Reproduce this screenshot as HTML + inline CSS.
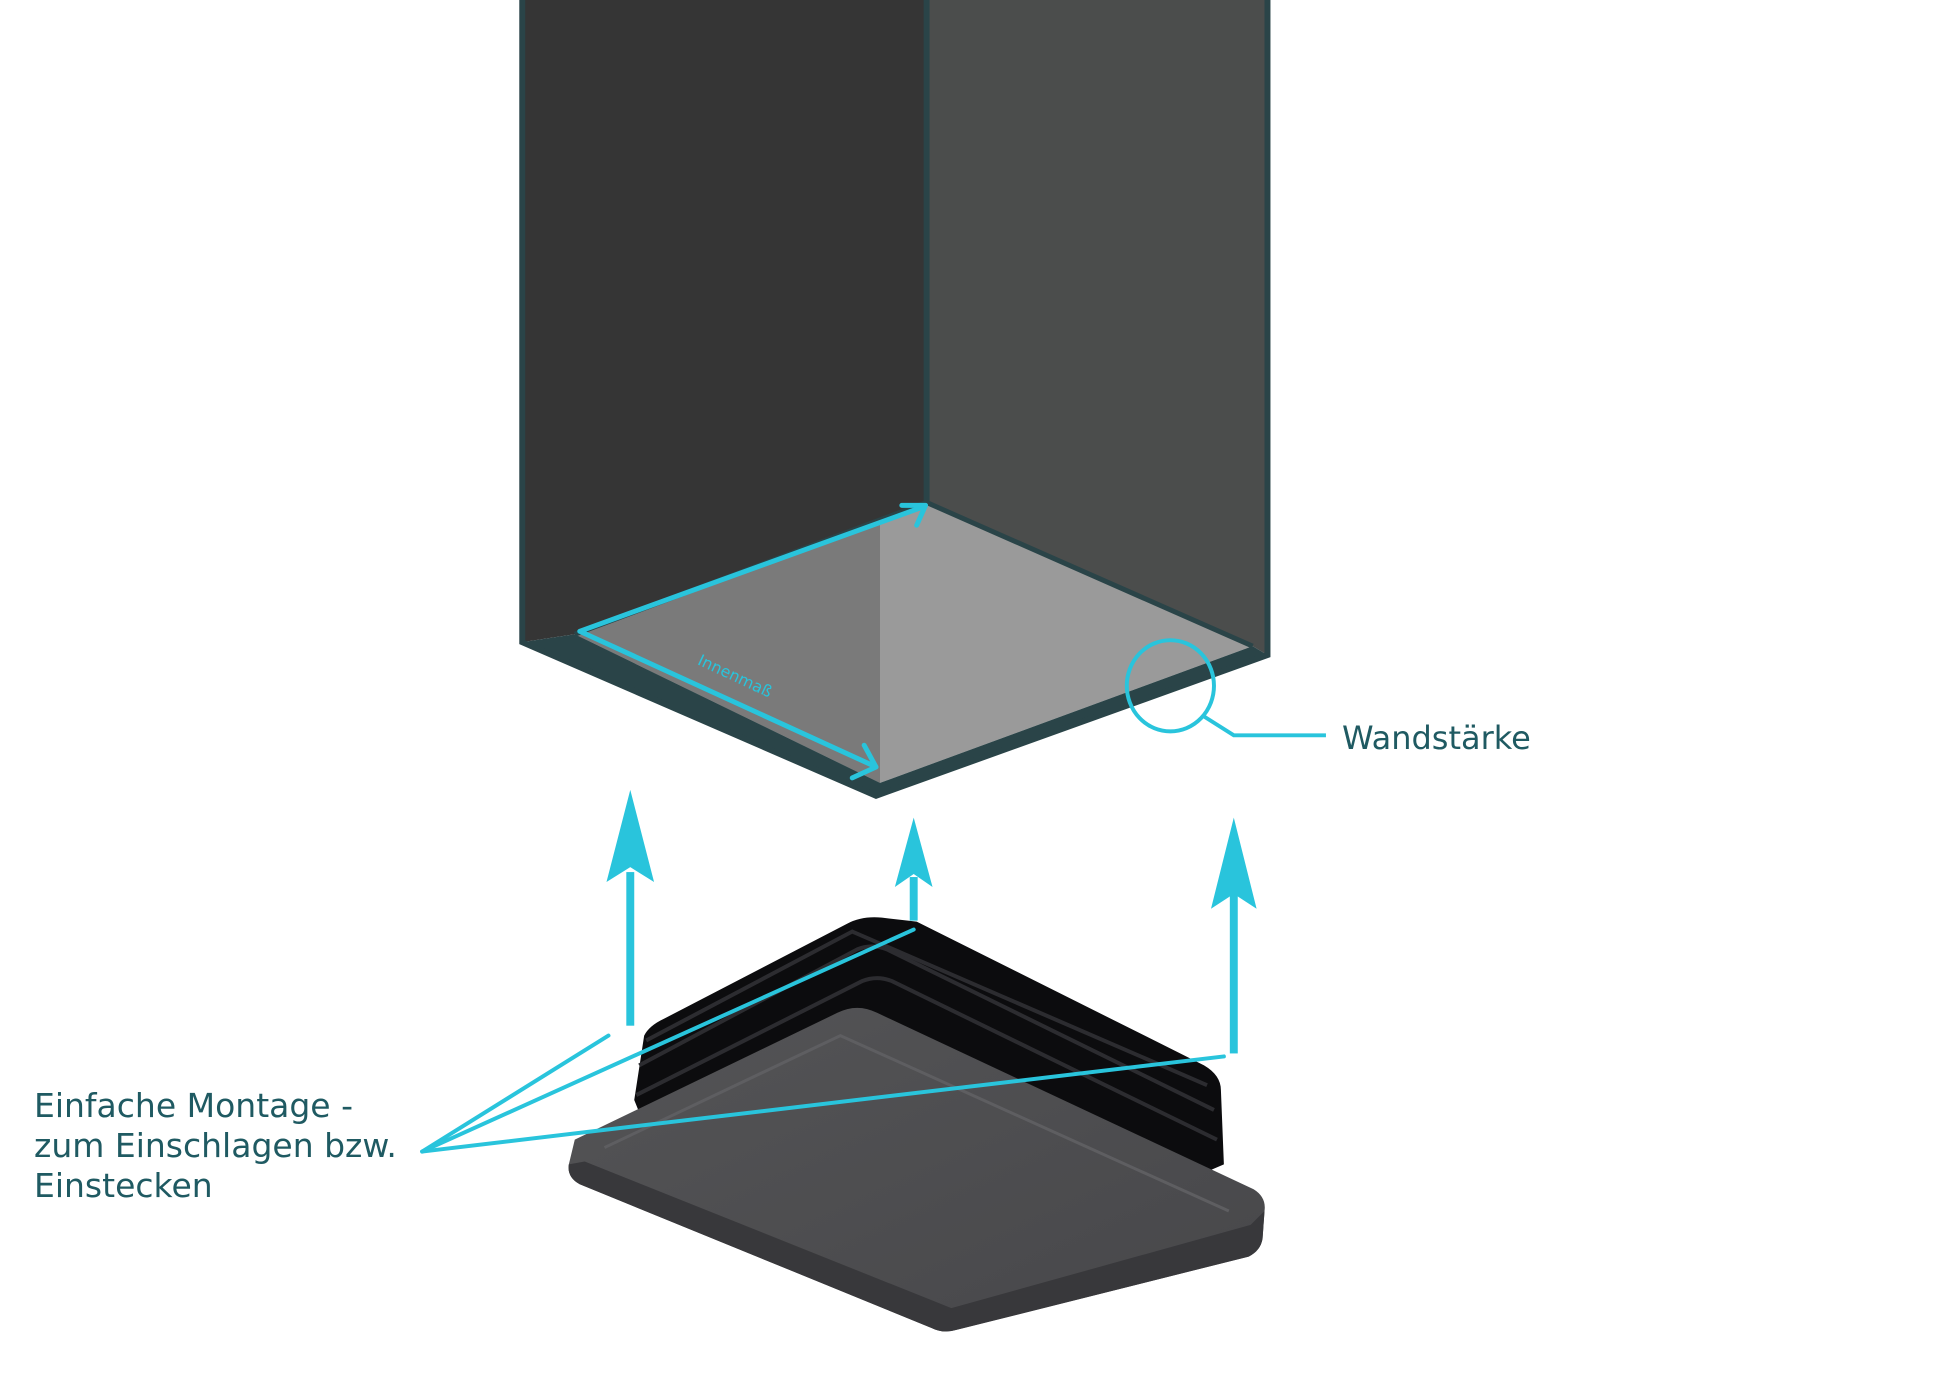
<!DOCTYPE html>
<html><head><meta charset="utf-8"><style>
html,body{margin:0;padding:0;background:#fff;}
svg{display:block}
</style></head><body>
<svg width="1946" height="1392" viewBox="0 0 1946 1392" xmlns="http://www.w3.org/2000/svg">
<defs>
<linearGradient id="cf" x1="0" y1="0" x2="1" y2="1">
<stop offset="0" stop-color="#545456"/><stop offset="1" stop-color="#47474a"/>
</linearGradient>
</defs>
<g transform="scale(0.991)">
<!-- tube -->
<polygon points="527,0 935,0 935,507 580,640 527,648" fill="#353535"/>
<polygon points="935,0 1279,0 1279,661 1264,652 935,507" fill="#4b4d4c"/>
<polygon points="580,640 935,507 1264,652 888,790" fill="#9a9a9a"/>
<polygon points="580,640 888,525 888,790" fill="#7a7a7a"/>
<polygon points="527,648 580,640 888,790 1264,652 1279,661 884,803" fill="#2a4448"/>
<polyline points="527,0 527,648 884,803 1279,661 1279,0" fill="none" stroke="#2a4448" stroke-width="6"/>
<line x1="935" y1="0" x2="935" y2="507" stroke="#2a4448" stroke-width="6"/>
<polyline points="580,640 935,507 1264,652" fill="none" stroke="#2a4448" stroke-width="5"/>
<!-- Innenmass arrows -->
<g stroke="#29c4dc" stroke-width="5" fill="none" stroke-linecap="round" stroke-linejoin="round">
<polyline points="930,512 585,637 882,773"/>
<polyline points="910,510 934,510 925,530"/>
<polyline points="860,785 884,774 872,752"/>
</g>
<text x="0" y="0" transform="translate(703,670) rotate(25)" font-family="DejaVu Sans, sans-serif" font-size="16" fill="#29c4dc">Innenmaß</text>
<!-- Wandstärke -->
<ellipse cx="1181" cy="692" rx="44" ry="46" fill="none" stroke="#29c4dc" stroke-width="4"/>
<polyline points="1215,723 1245,742 1338,742" fill="none" stroke="#29c4dc" stroke-width="4"/>
<!-- cap -->
<path d="M640,1110 L650,1045 Q655,1035 670,1028 L855,932 Q870,924 890,926 L925,930 L1215,1075 Q1232,1085 1232,1100 L1235,1175 L1200,1190 L650,1135 Z" fill="#0c0c0e"/>
<g fill="none" stroke="#2c2c30" stroke-width="4">
<path d="M645,1075 L865,958 Q880,952 895,958 L1225,1120"/>
<path d="M642,1105 L870,990 Q885,984 900,990 L1228,1150"/>
<path d="M652,1050 L860,940 L1218,1095"/>
</g>
<path d="M580,1150 L845,1022 Q865,1012 885,1022 L1265,1200 Q1278,1208 1276,1222 L1274,1250 Q1272,1262 1260,1268 L965,1342 Q952,1346 940,1340 L585,1195 Q572,1188 574,1175 Z" fill="url(#cf)"/>
<path d="M574,1175 Q572,1188 585,1195 L940,1340 Q952,1346 965,1342 L1260,1268 Q1272,1262 1274,1250 L1276,1222 L1262,1236 L960,1320 L590,1172 Z" fill="#38383b"/>
<path d="M610,1158 L848,1045 L1240,1222" fill="none" stroke="#5e5e61" stroke-width="3"/>
<!-- up arrows -->
<g fill="#29c4dc">
<rect x="632" y="880" width="8" height="155"/>
<polygon points="636,797 612,890 636,875 660,890"/>
<rect x="918" y="885" width="8" height="44"/>
<polygon points="922,825 903,895 922,882 941,895"/>
<rect x="1241" y="900" width="8" height="163"/>
<polygon points="1245,825 1222,917 1245,902 1268,917"/>
</g>
<!-- leader lines -->
<g stroke="#29c4dc" stroke-width="4" stroke-linecap="round">
<line x1="426" y1="1162" x2="614" y2="1045"/>
<line x1="426" y1="1162" x2="922" y2="938"/>
<line x1="426" y1="1162" x2="1235" y2="1066"/>
</g>
</g>
<text x="1342" y="749" font-family="DejaVu Sans, sans-serif" font-size="32" fill="#1f5a62">Wandstärke</text>
<g font-family="DejaVu Sans, sans-serif" font-size="33" fill="#1f5a62">
<text x="34" y="1117">Einfache Montage -</text>
<text x="34" y="1157">zum Einschlagen bzw.</text>
<text x="34" y="1197">Einstecken</text>
</g>
</svg>
</body></html>
